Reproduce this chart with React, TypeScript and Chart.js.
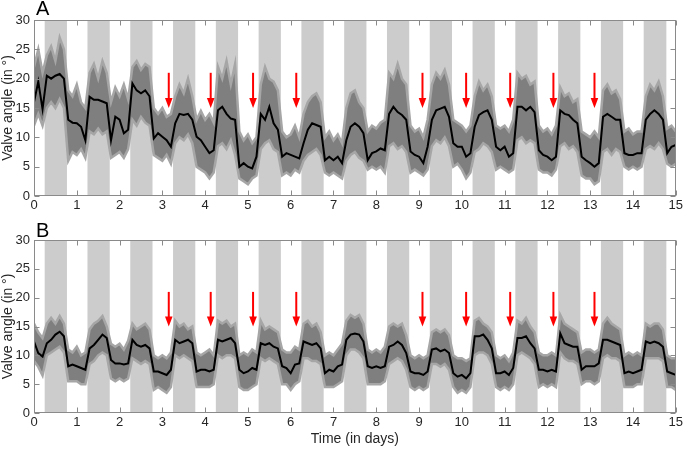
import React, { useEffect, useRef } from "react";
import { Chart, registerables } from "chart.js";
Chart.register(...registerables);

Chart.defaults.font.family = "'Liberation Sans', Arial, sans-serif";
Chart.defaults.color = "#262626";

// ---------- data ----------
const dayTicks = [0, 1, 2, 3, 4, 5, 6, 7, 8, 9, 10, 11, 12, 13, 14, 15];
const valueTicks = [0, 5, 10, 15, 20, 25, 30];
const nightStarts = [0.25, 1.25, 2.25, 3.25, 4.25, 5.25, 6.25, 7.25, 8.25, 9.25, 10.25, 11.25, 12.25, 13.25, 14.25];
const nightEnds = [0.77, 1.77, 2.77, 3.77, 4.77, 5.77, 6.77, 7.77, 8.77, 9.77, 10.77, 11.77, 12.77, 13.77, 14.78];
const arrowDays = [3.15, 4.13, 5.12, 6.13, 9.08, 10.1, 11.13, 12.14, 13.1];
const arrowFrom = 21;
const arrowTo = 15;

// time in days, one sample every 0.1 day
const timeDays = Array.from({ length: 151 }, (_, i) => i / 10);

const meanA = [
  16, 19.5, 14.8, 20.5, 20, 20.5, 20.8, 20, 13, 12.5,
  12.4, 11.8, 9.5, 16.9, 16.4, 16.4, 16.1, 15.8, 9.5, 13.5,
  13, 10.7, 11.3, 19.2, 18, 17.5, 18, 17, 9.8, 10.7,
  10.1, 9.5, 8.4, 12.4, 14, 13.8, 14, 13, 10.1, 9.5,
  8.4, 7.3, 7.8, 14.6, 15.2, 14, 13.2, 13, 5, 5.6,
  5, 4.7, 6.7, 14, 13, 15.2, 12.4, 11.3, 6.7, 7.3,
  7, 6.7, 6.4, 9, 11.3, 12.4, 12.1, 11.8, 6.1, 6.7,
  6.1, 6.7, 5.6, 9.5, 11.8, 12.4, 11.8, 10.7, 6.1, 7.3,
  7.6, 8.1, 7.8, 14, 15.2, 14.3, 13.8, 13, 7.6, 7,
  6.7, 5.6, 8.4, 13, 14.6, 14.9, 15.2, 13.5, 9, 8.4,
  8.4, 6.7, 7.3, 11.8, 13.8, 14.3, 14.6, 13, 8.4, 7.8,
  8.4, 6.7, 7.3, 15.2, 15.2, 14.6, 15.2, 14.3, 7.8, 7,
  6.7, 6.1, 6.7, 14.6, 14, 13.8, 13, 12.4, 6.7, 6.1,
  5.6, 5, 5.6, 13.5, 14, 13.5, 13, 13, 7.3, 7,
  7, 7.3, 7.3, 13, 14, 14.6, 14, 13, 7.3, 8.4, 8.7,
];
const highA = [
  22, 25, 21, 24, 25.5, 23, 27, 25, 18, 17,
  19, 16, 15, 21, 22.5, 20, 23, 21, 16, 18.5,
  17, 19, 16.5, 22, 23, 21.5, 22.5, 22, 15, 14,
  15, 13.5, 14, 17, 19, 17.5, 20, 17, 13, 14.5,
  13, 14, 12.5, 22, 20, 23, 19, 22.5, 11, 9.5,
  10.5, 9, 10, 19, 22, 20, 19.5, 18, 11, 10,
  10.5, 12, 10, 14, 16, 17, 17.5, 16, 10, 11,
  9.5, 10.5, 9, 15, 17.5, 18, 16, 15, 11, 12,
  11.5, 12.5, 13, 21, 20, 22.5, 20, 19, 12, 11,
  11.5, 10, 13, 19, 21, 20, 21.5, 19, 13, 12.5,
  12, 11, 12, 17, 19.5, 18, 19, 17, 12, 11.5,
  12, 11, 13, 21, 20, 20.5, 19, 19.5, 12, 11,
  11.5, 10.5, 12, 18.5, 17, 17.5, 16, 16.5, 11, 10.5,
  10, 11, 10, 18, 19, 17.5, 18, 16.5, 11, 11.5,
  10.5, 11, 11, 17, 19, 18, 19.5, 17, 11.5, 12, 11,
];
const lowA = [
  12, 14, 12, 15, 16, 15, 16.5, 15, 6, 7.5,
  7, 8, 6.5, 11, 10.5, 11.5, 10.5, 11, 6.5, 7,
  7.5, 6.5, 8, 13, 12, 13.5, 12.5, 12, 7, 6.5,
  6, 7, 5.5, 9, 10, 9.5, 10.5, 9, 5, 4.5,
  4, 3, 4, 8.5, 9, 8, 9.5, 7, 3, 2.5,
  2, 3, 3.5, 8, 9, 9.5, 8, 7.5, 3.5, 4,
  3.5, 4.5, 4, 6, 7, 7.5, 8, 7, 4, 3.5,
  4, 3.5, 3, 6, 7, 7.5, 6.5, 6, 4.5, 5,
  4.5, 5, 4, 8.5, 9, 8, 8.5, 7.5, 4, 4.5,
  4, 3.5, 4.5, 8.5, 9.5, 9, 10, 8.5, 5, 5.5,
  4.5, 3, 4, 7.5, 8, 9, 8.5, 7.5, 4.5, 5,
  4.5, 4, 4.5, 9.5, 10, 9, 9.5, 9, 4.5, 4,
  4, 3.5, 4.5, 8.5, 9, 8, 8.5, 7.5, 3.5, 3,
  3, 2, 2.5, 7.5, 8, 7, 8, 7.5, 5, 4.5,
  5, 4.5, 5, 8, 8.5, 8, 9, 8, 5.5, 5, 5.5,
];

const meanB = [
  12.4, 10.4, 9.8, 12.1, 12.7, 13.6, 14.1, 13.3, 8.1, 8.4,
  8.1, 7.8, 7.5, 11.2, 11.8, 12.7, 13.6, 13, 9.2, 8.6,
  8.6, 8.4, 8.6, 12.7, 11.8, 11.5, 11.8, 11.2, 7.2, 7.2,
  6.9, 6.6, 7.5, 12.7, 12.1, 12.4, 12.7, 12.1, 7.2, 7.5,
  7.5, 7.2, 7.5, 12.7, 12.4, 12.7, 13, 12.1, 7.5, 6.9,
  7.2, 7.8, 7.5, 12.1, 11.8, 12.1, 11.5, 11.2, 8.1, 7.8,
  6.9, 8.4, 8.6, 12.4, 12.1, 11.8, 12.1, 11.2, 6.9, 7.5,
  7.2, 8.1, 8.4, 12.7, 13.6, 13.8, 13.6, 12.4, 8.1, 7.8,
  8.1, 7.8, 8.1, 11.5, 11.8, 12.4, 11.8, 10.4, 7.2, 6.9,
  6.9, 6.6, 7.2, 11, 11.2, 10.7, 11, 10.4, 6.9, 6.3,
  6.6, 6, 6.9, 13.3, 13.3, 13.6, 12.7, 11.2, 6.9, 6.9,
  7.2, 6.6, 7.8, 13, 13, 13.3, 12.1, 11.2, 7.5, 7.5,
  7.2, 7.5, 7.2, 13.8, 12.1, 11.8, 11.5, 11.5, 7.5, 8.1,
  8.1, 8.1, 8.6, 12.7, 12.7, 12.4, 12.1, 11.8, 6.9, 7.2,
  6.9, 7.2, 7.5, 12.4, 12.1, 12.4, 12.1, 11.5, 7.2, 6.9, 6.6,
];
const highB = [
  15.5, 14, 13, 15.5, 16.5, 15.5, 16.8, 15.5, 11, 10.5,
  11.5, 10, 10.5, 14.5, 15.5, 16, 16.8, 15, 12, 11.5,
  12, 11, 12.5, 15.5, 14.5, 15, 15.5, 14.5, 10, 9.5,
  10, 9.5, 10.5, 16, 15, 15.5, 14.5, 15, 10.5, 10,
  10.5, 11, 10, 16, 15.5, 16, 15, 15.5, 10, 10.5,
  10, 11, 10.5, 16, 14.5, 15, 14.5, 14, 11, 10.5,
  10.5, 11.5, 11, 15.5, 16, 15, 15.5, 14, 10, 10.5,
  10, 11, 12, 16, 17, 16.5, 17, 15.5, 11, 10.5,
  11, 10.5, 11.5, 15, 15.5, 15, 15.5, 13.5, 10, 9.5,
  10, 9.5, 10, 14, 14.5, 14, 14.5, 13.5, 10, 9.5,
  9.5, 9, 9.5, 16, 16.5, 15.5, 15, 14, 10, 9.5,
  10, 9, 10.5, 16, 15.5, 16.5, 15, 14, 10.5, 10,
  10, 10.5, 10, 17, 15.5, 15, 14.5, 14, 10.5, 11,
  11, 10.5, 11, 15.5, 16.5, 15.5, 15, 14.5, 10, 10.5,
  10, 10.5, 10, 15.5, 15, 15.5, 15.5, 14.5, 10, 9.5, 9.5,
];
const lowB = [
  9, 8, 6.5, 10, 10.5, 11, 11.5, 10.5, 5.5, 5.5,
  5.5, 5, 5, 8.5, 9, 10, 10.5, 10, 6, 5.5,
  6, 5.5, 6, 9.5, 9, 8.5, 9, 8.5, 4, 4.5,
  4, 3.5, 4.5, 10, 9.5, 10, 9.5, 9, 4.5, 4.5,
  4.5, 4.5, 5, 10, 9.5, 10, 10, 9.5, 4.5, 4,
  4, 4.5, 5, 9.5, 9, 9.5, 9, 8.5, 5, 5,
  4, 5, 5.5, 9.5, 9.5, 9, 9, 8.5, 4.5, 4.5,
  4.5, 5, 5.5, 10, 11, 11, 10.5, 9.5, 5, 5,
  5, 5, 5.5, 8.5, 9, 9.5, 9, 7.5, 4.5, 4,
  4.5, 4, 4.5, 8.5, 8.5, 8, 8.5, 7.5, 4.5, 3.5,
  4, 3.5, 4.5, 10, 10.5, 10.5, 10, 8.5, 4.5, 4,
  4.5, 4, 5, 10, 10.5, 10, 9.5, 8.5, 4.5, 5,
  4.5, 5, 4.5, 10.5, 9.5, 9, 9, 8.5, 5, 5.5,
  5.5, 5, 5.5, 9.5, 10, 9.5, 9.5, 9, 4.5, 4.5,
  4.5, 5, 5, 9.5, 9.5, 9.5, 9.5, 9, 4.5, 4.5, 4,
];

// ---------- styling ----------
const BAND = "#cccccc";
const RANGE = "#7f7f7f";
const FRINGE = "#a6a6a6";
const AXIS = "#8a8a8a";

function overlayPlugin(letter: string, letterY: number) {
  return {
    id: "overlay" + letter,
    beforeDatasetsDraw(chart: any) {
      const { ctx, chartArea, scales } = chart;
      const x = scales.x;
      ctx.save();
      ctx.fillStyle = BAND;
      nightStarts.forEach((s, i) => {
        const x0 = x.getPixelForValue(s);
        const x1 = x.getPixelForValue(nightEnds[i]);
        ctx.fillRect(x0, chartArea.top, x1 - x0, chartArea.bottom - chartArea.top);
      });
      ctx.restore();
    },
    afterDatasetsDraw(chart: any) {
      const { ctx, chartArea, scales } = chart;
      const x = scales.x;
      const y = scales.y;
      ctx.save();
      // arrows
      ctx.strokeStyle = "#ff0000";
      ctx.fillStyle = "#ff0000";
      arrowDays.forEach((d) => {
        const px = x.getPixelForValue(d);
        const yTop = y.getPixelForValue(arrowFrom);
        const yTip = y.getPixelForValue(arrowTo);
        ctx.lineWidth = 2;
        ctx.beginPath();
        ctx.moveTo(px, yTop);
        ctx.lineTo(px, yTip - 8);
        ctx.stroke();
        ctx.beginPath();
        ctx.moveTo(px - 3.8, yTip - 10);
        ctx.lineTo(px + 3.8, yTip - 10);
        ctx.lineTo(px, yTip);
        ctx.closePath();
        ctx.fill();
      });
      // box
      const L = Math.round(chartArea.left) + 0.5;
      const R = Math.round(chartArea.right) - 0.5;
      const T = Math.round(chartArea.top) + 0.5;
      const B = Math.round(chartArea.bottom) - 0.5;
      ctx.strokeStyle = AXIS;
      ctx.lineWidth = 1;
      ctx.strokeRect(L, T, R - L, B - T);
      // inward ticks
      ctx.beginPath();
      dayTicks.forEach((d) => {
        const px = Math.round(x.getPixelForValue(d)) + 0.5;
        ctx.moveTo(px, B);
        ctx.lineTo(px, B - 5);
        ctx.moveTo(px, T);
        ctx.lineTo(px, T + 5);
      });
      valueTicks.forEach((v) => {
        const py = Math.round(y.getPixelForValue(v)) + 0.5;
        ctx.moveTo(L, py);
        ctx.lineTo(L + 5, py);
        ctx.moveTo(R, py);
        ctx.lineTo(R - 5, py);
      });
      ctx.stroke();
      // panel letter
      ctx.fillStyle = "#000";
      ctx.font = "20px 'Liberation Sans', Arial, sans-serif";
      ctx.textBaseline = "alphabetic";
      ctx.textAlign = "left";
      ctx.fillText(letter, 36, letterY);
      ctx.restore();
    },
  };
}

function makeConfig(mean: number[], high: number[], low: number[], letter: string, letterY: number, xHeight: number, withTitle: boolean): any {
  const pts = (arr: number[]) => arr.map((v, i) => ({ x: timeDays[i], y: v }));
  return {
    type: "line",
    data: {
      datasets: [
        { label: "mean", data: pts(mean), borderColor: "#000", borderWidth: 2, pointRadius: 0, fill: false, order: 0 },
        { label: "min", data: pts(low), borderColor: FRINGE, borderWidth: 2.5, pointRadius: 0, fill: false, order: 1 },
        { label: "max", data: pts(high), borderColor: FRINGE, backgroundColor: RANGE, borderWidth: 2.5, pointRadius: 0, fill: "-1", order: 2 },
      ],
    },
    options: {
      responsive: false,
      animation: false,
      devicePixelRatio: 1,
      layout: { padding: { top: 20, right: 8, left: 0, bottom: 0 } },
      plugins: { legend: { display: false }, tooltip: { enabled: false } },
      scales: {
        x: {
          type: "linear",
          min: 0,
          max: 15,
          afterBuildTicks: (s: any) => { s.ticks = dayTicks.map((v) => ({ value: v })); },
          afterFit: (s: any) => { s.height = xHeight; },
          grid: { display: false, drawTicks: false },
          border: { display: false },
          ticks: { font: { size: 13 }, color: "#262626", padding: 2, autoSkip: false, maxRotation: 0 },
          title: { display: withTitle, text: "Time (in days)", font: { size: 14 }, color: "#262626", padding: { top: 0, bottom: 1 } },
        },
        y: {
          min: 0,
          max: 30,
          afterBuildTicks: (s: any) => { s.ticks = valueTicks.map((v) => ({ value: v })); },
          afterFit: (s: any) => { s.width = 34; },
          grid: { display: false, drawTicks: false },
          border: { display: false },
          ticks: { font: { size: 13 }, color: "#262626", padding: 4 },
          title: { display: true, text: "Valve angle (in °)", font: { size: 14 }, color: "#262626", padding: 0 },
        },
      },
    },
    plugins: [overlayPlugin(letter, letterY)],
  };
}

export default function App() {
  const refA = useRef<HTMLCanvasElement>(null);
  const refB = useRef<HTMLCanvasElement>(null);
  useEffect(() => {
    const a = new Chart(refA.current as HTMLCanvasElement, makeConfig(meanA, highA, lowA, "A", 15, 22, false));
    const b = new Chart(refB.current as HTMLCanvasElement, makeConfig(meanB, highB, lowB, "B", 17, 36, true));
    return () => { a.destroy(); b.destroy(); };
  }, []);
  return (
    <div style={{ position: "absolute", left: 0, top: 0, width: 685, height: 449, background: "#fff" }}>
      <canvas ref={refA} width={685} height={218} style={{ position: "absolute", left: 0, top: 0, width: 685, height: 218 }} />
      <canvas ref={refB} width={685} height={229} style={{ position: "absolute", left: 0, top: 220, width: 685, height: 229 }} />
    </div>
  );
}
